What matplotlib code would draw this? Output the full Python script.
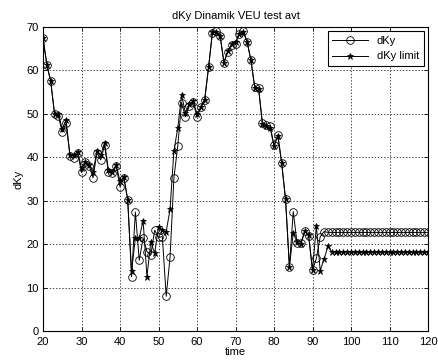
import matplotlib
matplotlib.use("Agg")
import matplotlib.pyplot as plt
import numpy as np

plt.rcParams['font.family'] = ['Liberation Sans', 'DejaVu Sans']

time = list(range(20, 121))

dky_head = [67.5, 61.3, 57.5, 50.0, 49.5, 45.8, 47.8, 40.4, 39.8, 41.0,
            36.5, 38.8, 38.0, 35.3, 41.0, 39.4, 42.8, 36.5, 36.3, 38.0,
            33.2, 35.3, 30.2, 12.5, 27.4, 16.3, 21.4, 18.3, 17.5, 23.2,
            21.6, 21.7, 8.0, 17.0, 35.2, 42.6, 52.6, 49.3, 51.8, 52.8,
            49.2, 51.5, 53.3, 60.7, 68.6, 69.0, 67.9, 61.8, 64.3, 65.9,
            66.2, 68.4, 69.1, 66.6, 62.4, 56.1, 55.9, 47.8, 47.4, 47.2,
            42.8, 45.1, 38.6, 30.3, 14.8, 27.5, 20.2, 20.2, 23.1, 21.9,
            14.0, 16.7, 21.7, 22.9]
dky = dky_head + [22.7] * (len(time) - len(dky_head))

lim_head = [67.5, 61.3, 57.5, 50.0, 50.0, 46.5, 48.5, 40.5, 40.5, 41.3,
            37.5, 39.0, 38.3, 36.5, 41.5, 40.5, 43.3, 37.0, 36.5, 38.3,
            34.5, 35.5, 30.2, 13.8, 21.4, 21.4, 25.4, 12.5, 20.5, 17.9,
            24.0, 23.2, 22.9, 28.0, 41.5, 46.7, 54.3, 50.2, 52.2, 53.0,
            50.0, 51.5, 53.3, 60.7, 68.8, 68.8, 68.0, 61.8, 64.5, 66.0,
            66.5, 68.5, 68.8, 66.6, 62.4, 56.0, 55.8, 47.6, 47.2, 46.8,
            42.5, 45.0, 38.6, 30.3, 14.8, 22.5, 20.5, 20.0, 23.0, 22.0,
            14.0, 24.2, 13.9, 16.5, 19.5]
dky_limit = lim_head + [18.2] * (len(time) - len(lim_head))

xticks = list(range(20, 121, 10))
yticks = list(range(0, 71, 10))

fig = plt.figure(figsize=(4.38, 3.62), dpi=100)
ax = fig.add_axes([43/438, 1-331/362, (428-43)/438, (331-27)/362])

ax.plot(time, dky, color='black', lw=0.7, marker='o', mfc='none', mec='black',
        ms=5.5, mew=0.6, label='dKy')
ax.plot(time, dky_limit, color='black', lw=0.7, marker='*', mfc='black', mec='black',
        ms=5, mew=0.5, label='dKy limit')

ax.set_xlim(20, 120)
ax.set_ylim(0, 70)
ax.set_xticks(xticks)
ax.set_yticks(yticks)
ax.tick_params(direction='in', top=True, right=True, labelsize=8, length=3, width=0.6)
ax.tick_params(axis='x', pad=4)
ax.tick_params(axis='y', pad=3)
ax.grid(True, color='black', linestyle=(0, (2, 2.5)), linewidth=0.5)
for s in ax.spines.values():
    s.set_linewidth(0.8)

ax.set_title('dKy Dinamik VEU test avt', fontsize=8, pad=6)
ax.set_xlabel('time', fontsize=8, labelpad=0)
ax.set_ylabel('dKy', fontsize=8, labelpad=2)

leg = ax.legend(loc='upper right', fontsize=8, frameon=True, fancybox=False,
                edgecolor='black', framealpha=1, borderaxespad=0.4, handlelength=3.2)
leg.get_frame().set_linewidth(0.8)

fig.savefig('out.png', dpi=100)
